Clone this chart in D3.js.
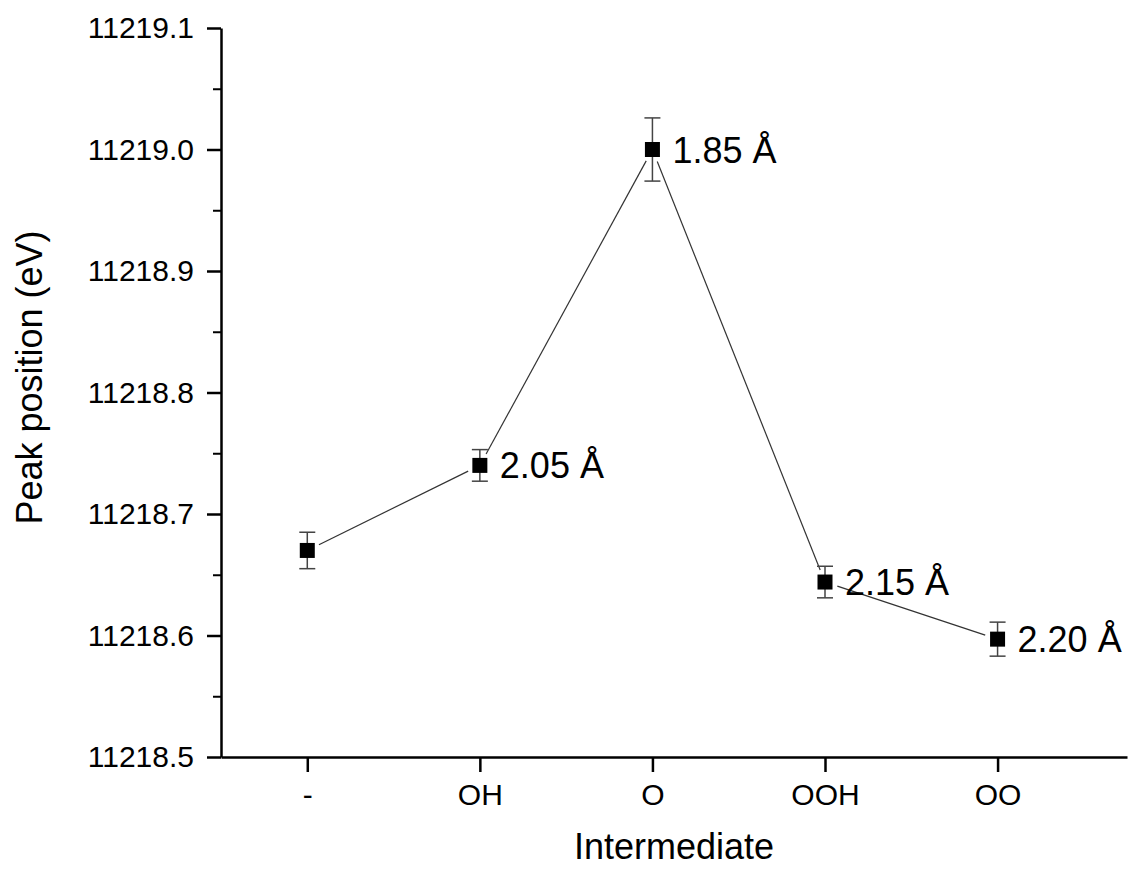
<!DOCTYPE html>
<html>
<head>
<meta charset="utf-8">
<script src="https://cdn.jsdelivr.net/npm/d3@7"></script>
<style>
  body { margin: 0; background: #fff; }
  text { font-family: Arial, "Liberation Sans", sans-serif; fill: #000; }
</style>
</head>
<body>
<div id="chart"></div>
<script>
// Data
var categories = ['-', 'OH', 'O', 'OOH', 'OO'];
var peakValues = [11218.670, 11218.740, 11219.000, 11218.644, 11218.597];
var peakErrors = [0.015, 0.013, 0.026, 0.013, 0.014];
var bondLabels = ['', '2.05 Å', '1.85 Å', '2.15 Å', '2.20 Å'];
var yTicks = [11218.5, 11218.6, 11218.7, 11218.8, 11218.9, 11219.0, 11219.1];

var xAxisTitle = 'Intermediate';
var yAxisTitle = 'Peak position (eV)';

var width = 1129, height = 869;
var margin = {top: 28, right: 2, bottom: 112, left: 221};
var plotW = width - margin.left - margin.right;
var plotH = height - margin.top - margin.bottom;

var svg = d3.select('#chart').append('svg')
  .attr('width', width)
  .attr('height', height);

var g = svg.append('g')
  .attr('transform', 'translate(' + margin.left + ',' + margin.top + ')');

// Scales: categories sit at index positions
var x = d3.scaleLinear()
  .domain([-0.5, 4.75])
  .range([0, plotW]);

var y = d3.scaleLinear()
  .domain([11218.5, 11219.1])
  .range([plotH, 0]);

// Minor ticks on y
var minorTicks = d3.range(0, 6).map(function(i) { return 11218.55 + i * 0.1; });
g.append('g')
  .call(d3.axisLeft(y).tickValues(minorTicks).tickSize(8).tickFormat(''))
  .call(function(s) { s.select('.domain').remove(); })
  .selectAll('line').attr('stroke', '#000').attr('stroke-width', 2);

// Y axis
var yAx = g.append('g')
  .call(d3.axisLeft(y).tickValues(yTicks).tickSize(14).tickSizeOuter(0).tickPadding(13)
    .tickFormat(d3.format('.1f')));
yAx.select('.domain').attr('stroke', '#000').attr('stroke-width', 2.5);
yAx.selectAll('.tick line').attr('stroke', '#000').attr('stroke-width', 2.5);
yAx.selectAll('.tick text')
  .style('font-size', '30px')
  .style('font-family', 'Arial, "Liberation Sans", sans-serif')
  .attr('fill', '#000');

// X axis
var xAx = g.append('g')
  .attr('transform', 'translate(0,' + plotH + ')')
  .call(d3.axisBottom(x).tickValues(d3.range(categories.length)).tickSize(15).tickSizeOuter(0).tickPadding(12)
    .tickFormat(function(i) { return categories[i]; }));
xAx.select('.domain').attr('stroke', '#000').attr('stroke-width', 2.5);
xAx.selectAll('.tick line').attr('stroke', '#000').attr('stroke-width', 2.5);
xAx.selectAll('.tick text')
  .style('font-size', '30px')
  .style('font-family', 'Arial, "Liberation Sans", sans-serif')
  .attr('fill', '#000');

// Axis titles
g.append('text')
  .attr('x', plotW / 2)
  .attr('y', plotH + 102)
  .attr('text-anchor', 'middle')
  .style('font-size', '36px')
  .text(xAxisTitle);

g.append('text')
  .attr('transform', 'rotate(-90)')
  .attr('x', -(plotH / 2) + 15)
  .attr('y', 42 - margin.left)
  .attr('text-anchor', 'middle')
  .style('font-size', '36px')
  .text(yAxisTitle);

// Connecting line with small gaps at markers
var pts = categories.map(function(c, i) { return [x(i), y(peakValues[i])]; });
var gap = 13;
var segs = [];
for (var i = 0; i < pts.length - 1; i++) {
  var a = pts[i], b = pts[i + 1];
  var dx = b[0] - a[0], dy = b[1] - a[1];
  var len = Math.sqrt(dx * dx + dy * dy);
  segs.push([a[0] + dx / len * gap, a[1] + dy / len * gap,
             b[0] - dx / len * gap, b[1] - dy / len * gap]);
}
g.append('g').selectAll('line')
  .data(segs)
  .enter().append('line')
    .attr('x1', function(d) { return d[0]; })
    .attr('y1', function(d) { return d[1]; })
    .attr('x2', function(d) { return d[2]; })
    .attr('y2', function(d) { return d[3]; })
    .attr('stroke', '#333')
    .attr('stroke-width', 1.2);

// Error bars
var capW = 8;
var eb = g.append('g').attr('stroke', '#444').attr('stroke-width', 1.5);
categories.forEach(function(c, i) {
  var cx = x(i);
  var y1 = y(peakValues[i] + peakErrors[i]);
  var y2 = y(peakValues[i] - peakErrors[i]);
  eb.append('line').attr('x1', cx).attr('x2', cx).attr('y1', y1).attr('y2', y2);
  eb.append('line').attr('x1', cx - capW).attr('x2', cx + capW).attr('y1', y1).attr('y2', y1);
  eb.append('line').attr('x1', cx - capW).attr('x2', cx + capW).attr('y1', y2).attr('y2', y2);
});

// Markers
var ms = 15;
g.append('g').selectAll('rect')
  .data(peakValues)
  .enter().append('rect')
    .attr('x', function(d, i) { return x(i) - ms / 2; })
    .attr('y', function(d) { return y(d) - ms / 2; })
    .attr('width', ms)
    .attr('height', ms)
    .attr('fill', '#000');

// Bond length labels
g.append('g').selectAll('text')
  .data(bondLabels)
  .enter().append('text')
    .attr('x', function(d, i) { return x(i) + 20; })
    .attr('y', function(d, i) { return y(peakValues[i]) + 13; })
    .style('font-size', '36px')
    .text(function(d) { return d; });
</script>
</body>
</html>
